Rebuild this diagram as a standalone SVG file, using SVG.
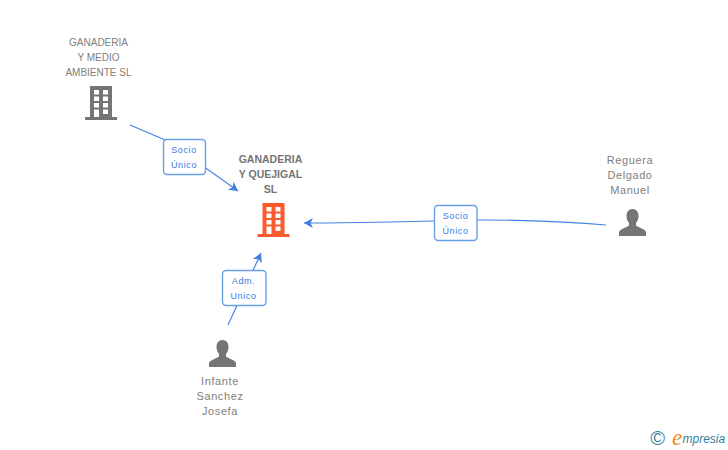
<svg xmlns="http://www.w3.org/2000/svg" xmlns:xlink="http://www.w3.org/1999/xlink" width="728" height="450" viewBox="0 0 728 450">
<style>
text{font-family:"Liberation Sans",Arial,sans-serif;text-anchor:middle}
.n{font-size:10px;fill:#808080}
.m{font-size:10.500px;fill:#757575;font-weight:bold}
.p{font-size:11px;fill:#808080;letter-spacing:.6px}
.l{font-size:9px;fill:#3a7be0;letter-spacing:.6px}
.b{fill:#fff;stroke:#6a9ee8;stroke-width:1.4}
.c{fill:none;stroke:#4285e0;stroke-width:1.2}
</style>
<defs>
<marker id="a" markerUnits="userSpaceOnUse" markerWidth="12" markerHeight="12" refX="9" refY="5.500" orient="auto"><path d="M9 5.500L0 .5L2.500 5.500L0 10.500Z" fill="#3f7fe0"/></marker>
<g id="bld"><path fill-rule="evenodd" d="M5 0H27V31H32V34H0V31H5ZM9 4V8.500H14V4ZM18 4V8.500H23V4ZM9 10.500V15H14V10.500ZM18 10.500V15H23V10.500ZM9 17V21.500H14V17ZM18 17V21.500H23V17ZM9 23.500V31H14V23.500ZM18 23.500V28H23V23.500Z"/></g>
<path id="per" d="M13.500 0C9.500 0 7.500 3 7.500 7C7.500 10 8.500 12 10 14V16.500C8 18.500 1.500 19.500 0 23V27H27V23C25.500 19.500 19 18.500 17 16.500V14C18.500 12 19.500 10 19.500 7C19.500 3 17.500 0 13.500 0Z" fill="#757575"/>
</defs>
<g id="connectors">
<path class="c" d="M130 125L164 139.500Q185 153 238 191" marker-end="url(#a)"/>
<path class="c" d="M228 325L261 253" marker-end="url(#a)"/>
<path class="c" d="M606 225C550 220 480 219 434 221C390 222 340 223 304 223" marker-end="url(#a)"/>
</g>
<g id="label-1"><rect class="b" x="163.500" y="139.500" width="42" height="35" rx="3.500"/><text class="l" x="184" y="153">Socio</text><text class="l" x="184" y="168">Único</text></g>
<g id="label-2"><rect class="b" x="222.500" y="270.500" width="43.500" height="35" rx="3.500"/><text class="l" x="243.500" y="284">Adm.</text><text class="l" x="243.500" y="299">Unico</text></g>
<g id="label-3"><rect class="b" x="434.500" y="205.500" width="42.500" height="35" rx="3.500"/><text class="l" x="455.500" y="219">Socio</text><text class="l" x="455.500" y="234">Único</text></g>
<g id="node-ganaderia-medio"><text class="n" x="98.500" y="46">GANADERIA</text><text class="n" x="98.500" y="61">Y MEDIO</text><text class="n" x="98.500" y="76">AMBIENTE SL</text><use xlink:href="#bld" href="#bld" x="85" y="86" fill="#757575"/></g>
<g id="node-ganaderia-quejigal"><text class="m" x="270.500" y="163">GANADERIA</text><text class="m" x="270.500" y="178">Y QUEJIGAL</text><text class="m" x="270.500" y="193">SL</text><use xlink:href="#bld" href="#bld" x="257.500" y="203" fill="#fb5a2d"/></g>
<g id="node-reguera"><text class="p" x="630" y="164">Reguera</text><text class="p" x="630" y="179">Delgado</text><text class="p" x="630" y="194">Manuel</text><use xlink:href="#per" href="#per" x="619" y="209"/></g>
<g id="node-infante"><text class="p" x="220" y="385">Infante</text><text class="p" x="220" y="400">Sanchez</text><text class="p" x="220" y="415">Josefa</text><use xlink:href="#per" href="#per" x="209" y="340"/></g>
<g id="logo"><text x="657.500" y="445" style="font-size:20px;fill:#3d7f9c">©</text><text x="677" y="445" style="font-size:23px;fill:#f08a1d;font-family:'Liberation Serif',serif;font-style:italic">e</text><text x="682.500" y="443" style="font-size:12px;fill:#2f7f9f;font-style:italic;text-anchor:start">mpresia</text></g>
</svg>
